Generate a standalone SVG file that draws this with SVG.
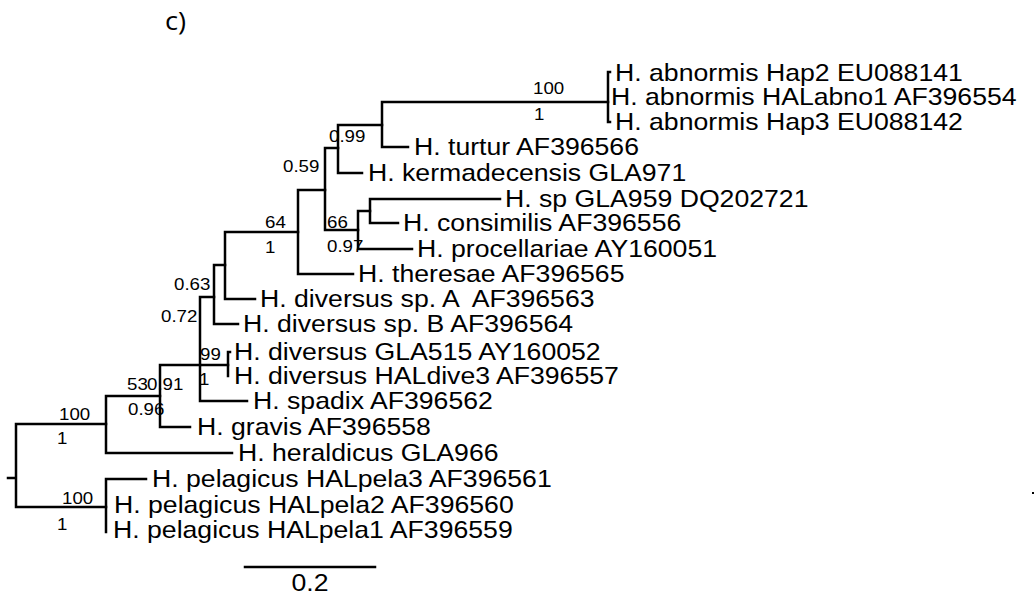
<svg xmlns="http://www.w3.org/2000/svg" width="1034" height="604" viewBox="0 0 1034 604">
<style>
.br{stroke:#000;stroke-width:2.5;fill:none;stroke-linecap:square}
.lab{font-family:"Liberation Sans",Arial,Helvetica,sans-serif;font-size:24px;fill:#000}
.sup{font-family:"Liberation Sans",Arial,Helvetica,sans-serif;font-size:17px;fill:#000}
.ttl{font-family:"Open Sans","Liberation Sans",sans-serif;font-size:26px;fill:#000}
</style>
<rect width="1034" height="604" fill="#fff"/>
<text class="ttl" transform="translate(165 30) scale(1.05 1)">c)</text>

<g id="connectors" class="br">
<path d="M8,478H16M16,424V507M16,424H106M16,507H106"/>
<path d="M106,396V453M106,396H160M106,453H232"/>
<path d="M160,365V427M160,427H190M160,365H200"/>
<path d="M200,297V401M200,401H247M200,365H228M200,297H214"/>
<path d="M228,352V376M228,352H230"/>
<path d="M214,265V324M214,324H238M214,265H225"/>
<path d="M225,232V299M225,299H255M225,232H298"/>
<path d="M298,190V274M298,274H353M298,190H325"/>
<path d="M325,148V230M325,230H358M325,148H338"/>
<path d="M358,211V249M358,249H412M358,211H370"/>
<path d="M370,199V223M370,223H398M370,199H500"/>
<path d="M338,125V173M338,173H362M338,125H382"/>
<path d="M382,102V147M382,147H408M382,102H608"/>
<path d="M608,72V122M608,72H610M608,122H610"/>
<path d="M106,479V532M106,479H146"/>
</g>

<g id="leaves">
<g id="n-abno-hap2"><text class="lab" transform="translate(615 81) scale(1.11 1)">H. abnormis Hap2 EU088141</text></g>
<g id="n-abno-hal1"><text class="lab" transform="translate(611 105) scale(1.11 1)">H. abnormis HALabno1 AF396554</text></g>
<g id="n-abno-hap3"><text class="lab" transform="translate(615 130) scale(1.11 1)">H. abnormis Hap3 EU088142</text></g>
<g id="n-turtur"><text class="lab" transform="translate(414 155) scale(1.11 1)">H. turtur AF396566</text></g>
<g id="n-kermadecensis"><text class="lab" transform="translate(368 181) scale(1.11 1)">H. kermadecensis GLA971</text></g>
<g id="n-sp-gla959"><text class="lab" transform="translate(505 207) scale(1.11 1)">H. sp GLA959 DQ202721</text></g>
<g id="n-consimilis"><text class="lab" transform="translate(403 231) scale(1.11 1)">H. consimilis AF396556</text></g>
<g id="n-procellariae"><text class="lab" transform="translate(417 257) scale(1.11 1)">H. procellariae AY160051</text></g>
<g id="n-theresae"><text class="lab" transform="translate(358 282) scale(1.11 1)">H. theresae AF396565</text></g>
<g id="n-diversus-spA"><text class="lab" transform="translate(260 307) scale(1.11 1)" xml:space="preserve">H. diversus sp. A  AF396563</text></g>
<g id="n-diversus-spB"><text class="lab" transform="translate(243 332) scale(1.11 1)">H. diversus sp. B AF396564</text></g>
<g id="n-diversus-gla515"><text class="lab" transform="translate(234 360) scale(1.11 1)">H. diversus GLA515 AY160052</text></g>
<g id="n-diversus-haldive3"><text class="lab" transform="translate(234 384) scale(1.11 1)">H. diversus HALdive3 AF396557</text></g>
<g id="n-spadix"><text class="lab" transform="translate(253 409) scale(1.11 1)">H. spadix AF396562</text></g>
<g id="n-gravis"><text class="lab" transform="translate(197 435) scale(1.11 1)">H. gravis AF396558</text></g>
<g id="n-heraldicus"><text class="lab" transform="translate(238 461) scale(1.11 1)">H. heraldicus GLA966</text></g>
<g id="n-pela3"><text class="lab" transform="translate(152 487) scale(1.11 1)">H. pelagicus HALpela3 AF396561</text></g>
<g id="n-pela2"><text class="lab" transform="translate(114 513) scale(1.11 1)">H. pelagicus HALpela2 AF396560</text></g>
<g id="n-pela1"><text class="lab" transform="translate(113 538) scale(1.11 1)">H. pelagicus HALpela1 AF396559</text></g>
</g>

<g id="support">
<text class="sup" transform="translate(533 94) scale(1.1 1)">100</text>
<text class="sup" transform="translate(534 120) scale(1.1 1)">1</text>
<text class="sup" transform="translate(329 142) scale(1.1 1)">0.99</text>
<text class="sup" transform="translate(283 172) scale(1.1 1)">0.59</text>
<text class="sup" transform="translate(327 228) scale(1.1 1)">66</text>
<text class="sup" transform="translate(327 252) scale(1.1 1)">0.97</text>
<text class="sup" transform="translate(265 228) scale(1.1 1)">64</text>
<text class="sup" transform="translate(265 253) scale(1.1 1)">1</text>
<text class="sup" transform="translate(174 290) scale(1.1 1)">0.63</text>
<text class="sup" transform="translate(161 322) scale(1.1 1)">0.72</text>
<text class="sup" transform="translate(200 360) scale(1.1 1)">99</text>
<text class="sup" transform="translate(199 385) scale(1.1 1)">1</text>
<text class="sup" transform="translate(127 390) scale(1.1 1)">53</text>
<text class="sup" transform="translate(147 390) scale(1.1 1)">0.91</text>
<text class="sup" transform="translate(128 415) scale(1.1 1)">0.96</text>
<text class="sup" transform="translate(59 420) scale(1.1 1)">100</text>
<text class="sup" transform="translate(57 444) scale(1.1 1)">1</text>
<text class="sup" transform="translate(62 504) scale(1.1 1)">100</text>
<text class="sup" transform="translate(57 530) scale(1.1 1)">1</text>
</g>

<g id="scale-bar">
<path class="br" d="M245,567H375"/>
<text class="lab" text-anchor="middle" transform="translate(310 591) scale(1.11 1)">0.2</text>
</g>
<rect x="1032" y="492" width="2" height="2" fill="#000"/>
</svg>
